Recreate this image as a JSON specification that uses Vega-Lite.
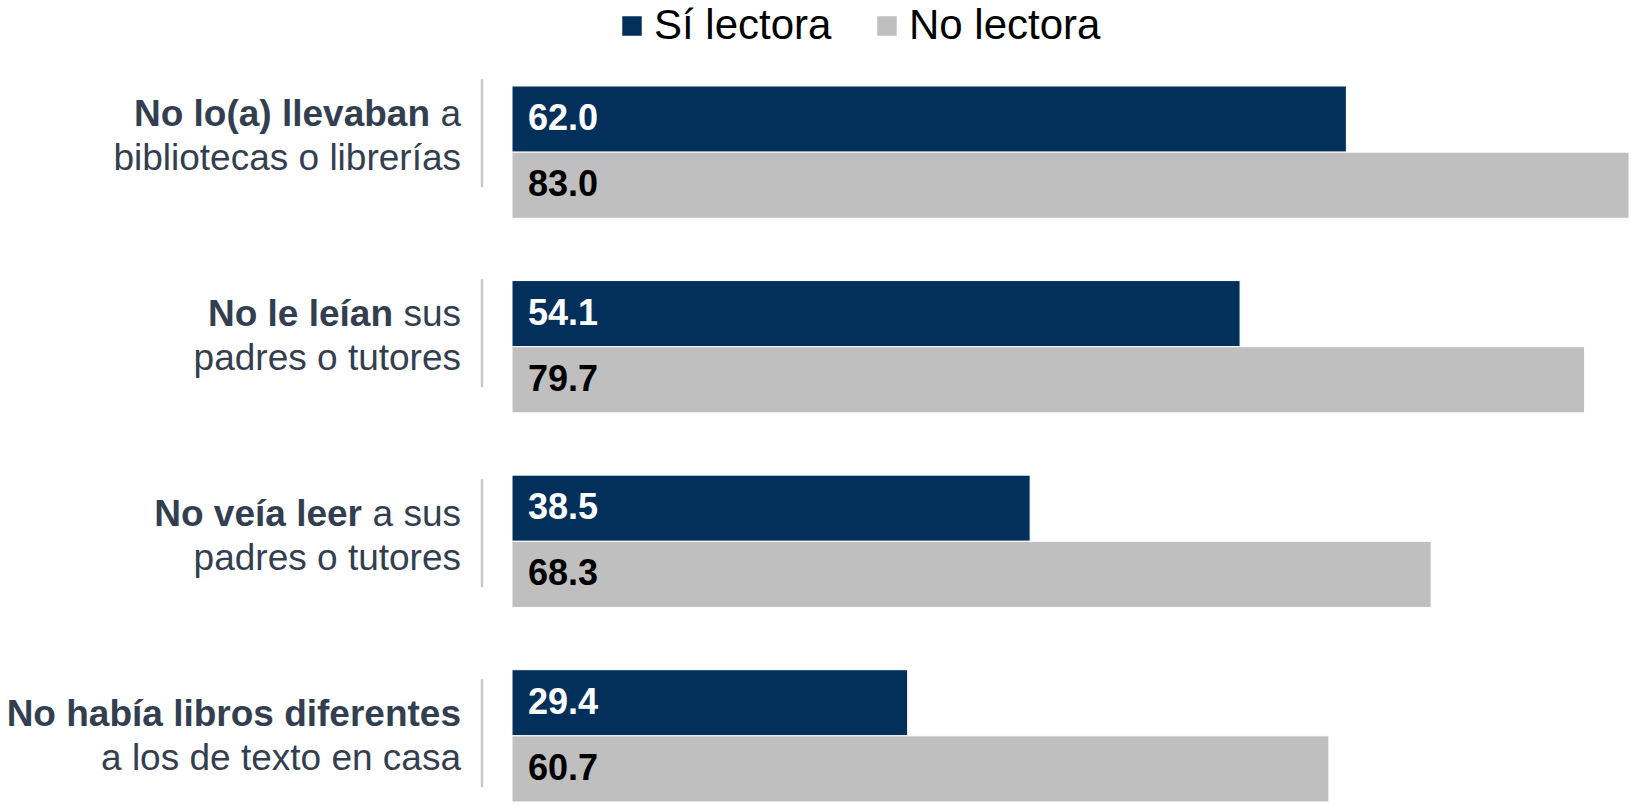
{
  "$schema": "https://vega.github.io/schema/vega-lite/v6.json",
  "width": 1117,
  "height": 716,
  "autosize": {"type": "none"},
  "padding": {"left": 512, "top": 86, "right": 2, "bottom": 5},
  "background": "white",
  "config": {"view": {"stroke": null}, "font": "Liberation Sans"},
  "datasets": {
    "barras": [
      {"cat": "No lo(a) llevaban a bibliotecas o librerías", "serie": "Sí lectora", "valor": 62.0},
      {"cat": "No lo(a) llevaban a bibliotecas o librerías", "serie": "No lectora", "valor": 83.0},
      {"cat": "No le leían sus padres o tutores", "serie": "Sí lectora", "valor": 54.1},
      {"cat": "No le leían sus padres o tutores", "serie": "No lectora", "valor": 79.7},
      {"cat": "No veía leer a sus padres o tutores", "serie": "Sí lectora", "valor": 38.5},
      {"cat": "No veía leer a sus padres o tutores", "serie": "No lectora", "valor": 68.3},
      {"cat": "No había libros diferentes a los de texto en casa", "serie": "Sí lectora", "valor": 29.4},
      {"cat": "No había libros diferentes a los de texto en casa", "serie": "No lectora", "valor": 60.7}
    ],
    "etiquetas": [
      {"cat": "No lo(a) llevaban a bibliotecas o librerías", "negrita": "No lo(a) llevaban", "cola": "a", "linea2": "bibliotecas o librerías"},
      {"cat": "No le leían sus padres o tutores", "negrita": "No le leían", "cola": "sus", "linea2": "padres o tutores"},
      {"cat": "No veía leer a sus padres o tutores", "negrita": "No veía leer", "cola": "a sus", "linea2": "padres o tutores"},
      {"cat": "No había libros diferentes a los de texto en casa", "negrita": "No había libros diferentes", "cola": "", "linea2": "a los de texto en casa"}
    ]
  },
  "layer": [
    {
      "data": {"name": "barras"},
      "encoding": {
        "y": {"field": "cat", "type": "nominal", "sort": ["No lo(a) llevaban a bibliotecas o librerías", "No le leían sus padres o tutores", "No veía leer a sus padres o tutores", "No había libros diferentes a los de texto en casa"], "scale": {"paddingInner": 0.32, "paddingOuter": 0}, "axis": null},
        "yOffset": {"field": "serie", "type": "nominal", "sort": ["Sí lectora", "No lectora"], "scale": {"paddingInner": 0, "paddingOuter": 0}}
      },
      "layer": [
        {
          "mark": {"type": "bar", "stroke": "white", "strokeWidth": 1},
          "encoding": {
            "x": {"field": "valor", "type": "quantitative", "scale": {"domain": [0, 83], "nice": false, "zero": true}, "axis": null},
            "color": {
              "field": "serie", "type": "nominal",
              "scale": {"domain": ["Sí lectora", "No lectora"], "range": ["#03305a", "#bfbfbf"]},
              "legend": {
                "title": null, "orient": "none", "direction": "horizontal",
                "legendX": 99, "legendY": -81, "padding": 0,
                "symbolType": "square", "symbolSize": 380, "symbolStrokeWidth": 0,
                "labelFontSize": 42, "labelFont": "Liberation Sans", "labelColor": "#000000",
                "labelOffset": 1, "columnPadding": 34, "labelLimit": 400
              }
            }
          }
        },
        {
          "mark": {"type": "text", "align": "left", "baseline": "middle", "dx": 16, "fontSize": 36, "fontWeight": "bold", "font": "Liberation Sans"},
          "encoding": {
            "x": {"datum": 0, "type": "quantitative"},
            "text": {"field": "valor", "type": "quantitative", "format": ".1f"},
            "color": {"condition": {"test": "datum.serie === 'Sí lectora'", "value": "#ffffff"}, "value": "#000000"}
          }
        }
      ]
    },
    {
      "data": {"name": "etiquetas"},
      "encoding": {
        "y": {"field": "cat", "type": "nominal", "sort": ["No lo(a) llevaban a bibliotecas o librerías", "No le leían sus padres o tutores", "No veía leer a sus padres o tutores", "No había libros diferentes a los de texto en casa"], "scale": {"type": "point", "padding": 0.29, "align": 0.42}, "axis": null},
        "x": {"datum": 0, "type": "quantitative"}
      },
      "layer": [
        {
          "mark": {"type": "tick", "orient": "vertical", "size": 108, "thickness": 2.5, "color": "#c8c8c8", "xOffset": -30, "yOffset": -1.5, "opacity": 1}
        },
        {
          "mark": {"type": "text", "align": "right", "baseline": "alphabetic", "dx": -51, "dy": 35, "fontSize": 37, "color": "#333f50", "font": "Liberation Sans"},
          "encoding": {"text": {"field": "linea2"}}
        },
        {
          "mark": {"type": "text", "align": "right", "baseline": "alphabetic", "dx": -51, "dy": -9, "fontSize": 37, "color": "#333f50", "font": "Liberation Sans"},
          "encoding": {"text": {"field": "cola"}}
        },
        {
          "transform": [{"filter": "datum.cola === 'a'"}],
          "mark": {"type": "text", "align": "right", "baseline": "alphabetic", "dx": -82, "dy": -9, "fontSize": 37, "fontWeight": "bold", "color": "#333f50", "font": "Liberation Sans"},
          "encoding": {"text": {"field": "negrita"}}
        },
        {
          "transform": [{"filter": "datum.cola === 'sus'"}],
          "mark": {"type": "text", "align": "right", "baseline": "alphabetic", "dx": -119, "dy": -9, "fontSize": 37, "fontWeight": "bold", "color": "#333f50", "font": "Liberation Sans"},
          "encoding": {"text": {"field": "negrita"}}
        },
        {
          "transform": [{"filter": "datum.cola === 'a sus'"}],
          "mark": {"type": "text", "align": "right", "baseline": "alphabetic", "dx": -150, "dy": -9, "fontSize": 37, "fontWeight": "bold", "color": "#333f50", "font": "Liberation Sans"},
          "encoding": {"text": {"field": "negrita"}}
        },
        {
          "transform": [{"filter": "datum.cola === ''"}],
          "mark": {"type": "text", "align": "right", "baseline": "alphabetic", "dx": -51, "dy": -9, "fontSize": 37, "fontWeight": "bold", "color": "#333f50", "font": "Liberation Sans"},
          "encoding": {"text": {"field": "negrita"}}
        }
      ]
    }
  ],
  "resolve": {"scale": {"y": "independent"}}
}
